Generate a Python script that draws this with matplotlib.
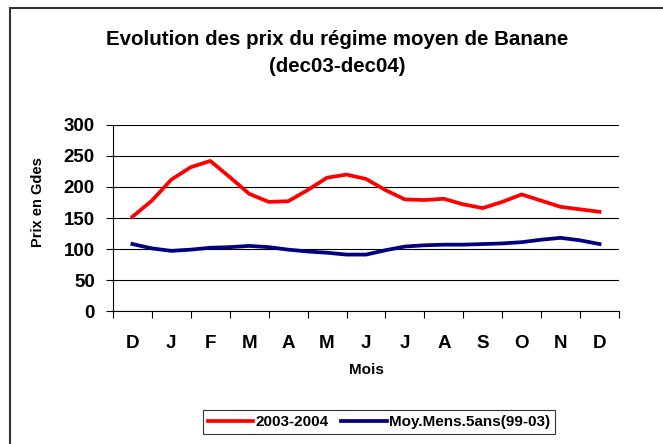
import matplotlib
matplotlib.use("Agg")
import matplotlib.pyplot as plt
import matplotlib.patches as patches
import numpy as np

plt.rcParams['font.family'] = ['Liberation Sans', 'DejaVu Sans']
plt.rcParams['font.weight'] = 'bold'

# mois (etiquettes) et releves bi-mensuels
mois = ["D", "J", "F", "M", "A", "M", "J", "J", "A", "S", "O", "N", "D"]
prix_2003_2004 = [152, 178, 212, 232, 242, 216, 189, 176, 177, 195, 215, 220, 213,
                  195, 180, 179, 181, 172, 166, 176, 188, 178, 168, 164, 160]
moy_5ans = [108, 101, 97, 99, 102, 103, 105, 103, 99, 96, 94, 91, 91,
            98, 104, 106, 107, 107, 108, 109, 111, 115, 118, 114, 108]
y_ticks = [0, 50, 100, 150, 200, 250, 300]

x = np.arange(len(prix_2003_2004)) / 2.0

fig = plt.figure(figsize=(6.63, 4.44), dpi=100)
ax = fig.add_axes([0.1704, 0.2995, 0.7632, 0.419])

ax.plot(x, prix_2003_2004, color="#ff0000", lw=2.7, label="2003-2004",
        solid_joinstyle="round")
ax.plot(x, moy_5ans, color="#000080", lw=2.7, label="Moy.Mens.5ans(99-03)",
        solid_joinstyle="round")

ax.set_xlim(-0.5, len(mois) - 0.5)
ax.set_ylim(0, 300)
ax.set_yticks(y_ticks)
ax.yaxis.grid(True, color="black", lw=0.8)
ax.set_axisbelow(True)

ax.set_xticks(np.arange(len(mois)))
ax.set_xticklabels(mois, fontsize=13.5, fontweight="bold")
ax.set_xticks(np.arange(len(mois) + 1) - 0.5, minor=True)
ax.tick_params(axis="x", which="major", length=0, pad=17)
ax.tick_params(axis="x", which="minor", length=5, width=0.8, direction="out")
ax.tick_params(axis="y", length=5, width=0.8, pad=8, labelsize=13.5)
for lab in ax.get_yticklabels():
    lab.set_fontweight("bold")

for s in ["top", "right"]:
    ax.spines[s].set_visible(False)
for s in ["left", "bottom"]:
    ax.spines[s].set_linewidth(0.8)

ax.set_xlabel("Mois", fontsize=11, fontweight="bold", labelpad=8)
ax.set_ylabel("Prix en Gdes", fontsize=10.5, fontweight="bold")
ax.yaxis.set_label_coords(-0.135, 0.585)

fig.text(0.508, 0.912, "Evolution des prix du régime moyen de Banane",
         ha="center", va="center", fontsize=14.8, fontweight="bold")
fig.text(0.508, 0.850, "(dec03-dec04)",
         ha="center", va="center", fontsize=14.8, fontweight="bold")

leg = ax.legend(loc="center", bbox_to_anchor=(379 / 663, 1 - 422 / 444),
                bbox_transform=fig.transFigure, ncol=2, frameon=True,
                fancybox=False, edgecolor="black",
                handlelength=3.0, columnspacing=0.8, handletextpad=0.15,
                borderpad=0.3, prop={"weight": "bold", "size": 11})
leg.get_frame().set_linewidth(0.8)

fig.patches.append(patches.Rectangle((10 / 663, -0.1), 1.2, 1 - 8 / 444 + 0.1,
                                     transform=fig.transFigure, fill=False,
                                     edgecolor="#333333", lw=1.5))

fig.savefig("out.png", dpi=100)
